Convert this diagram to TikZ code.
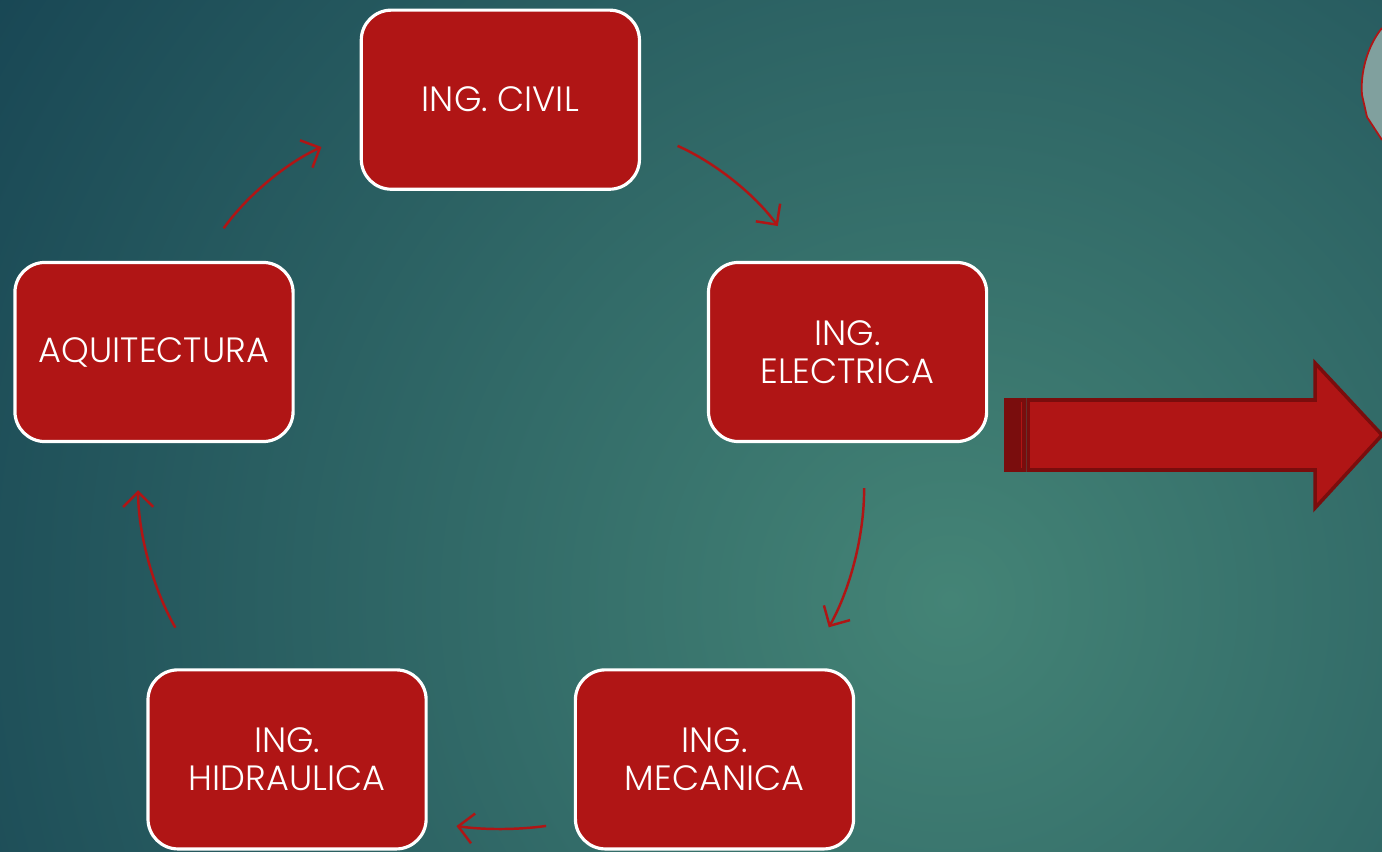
\documentclass[tikz,border=0pt]{standalone}
\usepackage{fontspec}
\setmainfont{Poppins}[UprightFont=* Light]
\usetikzlibrary{positioning,arrows.meta}
\definecolor{boxred}{RGB}{176,21,21}
\definecolor{darkred}{RGB}{122,13,13}
\definecolor{bgdark}{RGB}{24,70,84}
\definecolor{bglight}{RGB}{68,132,118}
\definecolor{greyteal}{RGB}{128,160,158}
\begin{document}
\begin{tikzpicture}[x=0.01cm, y=-0.01cm, node distance=1.5cm,
    area/.style={draw=white, line width=0.9pt, fill=boxred, rounded corners=0.3cm,
        minimum width=2.78cm, minimum height=1.79cm, text=white, align=center,
        font=\fontsize{10}{10.8}\selectfont},
    link/.style={draw=boxred, line width=0.7pt, bend left=15,
        -{Straight Barb[length=1.5mm,width=3mm]}}]
    \useasboundingbox (0,0) rectangle (1382,852);
    \begin{scope}
        \clip (0,0) rectangle (1382,852);
        \fill[bgdark] (0,0) rectangle (1382,852);
        \fill[inner color=bglight, outer color=bgdark] (950,600) circle (1150);
        \filldraw[fill=greyteal, draw=boxred, line width=0.5pt] (1382,28) .. controls (1368,45) and (1360,72) .. (1362,95) -- (1367,117) -- (1382,140);
    \end{scope}
    \node[area] (aq) at (154,352) {AQUITECTURA};
    \node[area, right=4.12cm of aq] (elec) {ING.\\ELECTRICA};
    \node[area, above right=0.70cm and 0.65cm of aq] (civil) {ING. CIVIL};
    \node[area, below=2.25cm of aq, xshift=1.33cm] (hid) {ING.\\HIDRAULICA};
    \node[area, right=1.46cm of hid] (mec) {ING.\\MECANICA};
    \draw[link, shorten <=0.40cm, shorten >=0.42cm] (aq.63) to (civil.192);
    \draw[link, shorten <=0.40cm, shorten >=0.43cm] (civil.-12) to (elec.116);
    \draw[link, shorten <=0.45cm, shorten >=0.47cm] (elec.-80) to (mec.45);
    \draw[link, bend left=8, shorten <=0.28cm, shorten >=0.29cm] (mec.204) to (hid.-24);
    \draw[link, shorten <=0.47cm, shorten >=0.47cm] (hid.134) to (aq.-100);
    \filldraw[fill=boxred, draw=darkred, line width=1pt] (1028,400) -- (1315,400) -- (1315,363) -- (1382,435) -- (1315,508) -- (1315,470) -- (1028,470) -- cycle;
    \filldraw[fill=darkred, draw=darkred, line width=1pt] (1006,400) rectangle (1016,470);
    \filldraw[fill=boxred, draw=darkred, line width=1pt] (1019,400) rectangle (1024,470);
\end{tikzpicture}
\end{document}
